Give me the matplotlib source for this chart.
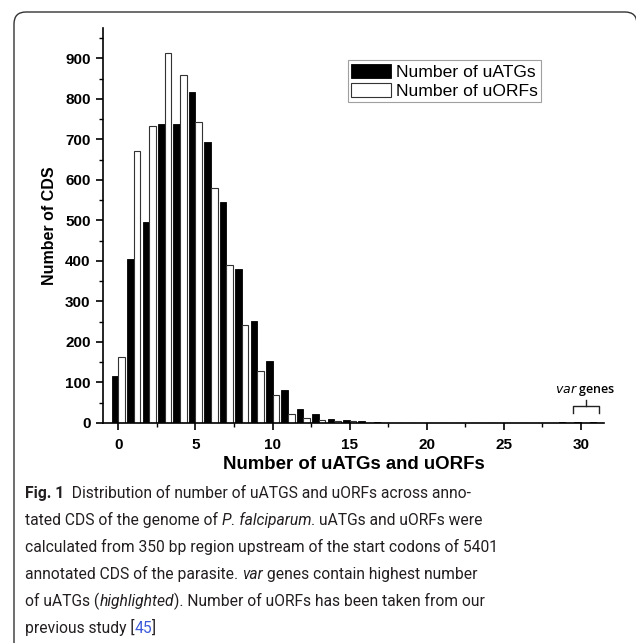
import numpy as np
import matplotlib
matplotlib.use("Agg")
import matplotlib.pyplot as plt
from matplotlib.patches import FancyBboxPatch
from matplotlib.transforms import IdentityTransform
from matplotlib.ticker import MultipleLocator

# number of uATGs / uORFs per CDS (0..31)
n_values = np.arange(0, 32)
uatg_counts = [117, 405, 496, 737, 737, 816, 694, 546, 380, 251, 154, 82,
               35, 22, 10, 8, 6, 3, 0, 0, 0, 1, 1, 0,
               0, 0, 0, 0, 0, 3, 2, 2]
uorf_counts = [164, 672, 733, 913, 859, 742, 579, 390, 242, 128, 70, 22,
               12, 7, 5, 5, 1, 0, 0, 0, 0, 0, 0, 0,
               0, 0, 0, 0, 0, 1, 0, 1]
series_names = ["Number of uATGs", "Number of uORFs"]

TXT = "#231f20"
caption_lines = [
    [("Fig. 1", "bold", "normal", TXT), ("  Distribution of number of uATGS and uORFs across anno-", "normal", "normal", TXT)],
    [("tated CDS of the genome of ", "normal", "normal", TXT), ("P. falciparum", "normal", "italic", TXT), (". uATGs and uORFs were", "normal", "normal", TXT)],
    [("calculated from 350 bp region upstream of the start codons of 5401", "normal", "normal", TXT)],
    [("annotated CDS of the parasite. ", "normal", "normal", TXT), ("var", "normal", "italic", TXT), (" genes contain highest number", "normal", "normal", TXT)],
    [("of uATGs (", "normal", "normal", TXT), ("highlighted", "normal", "italic", TXT), ("). Number of uORFs has been taken from our", "normal", "normal", TXT)],
    [("previous study [", "normal", "normal", TXT), ("45", "normal", "normal", "#3b5bdb"), ("]", "normal", "normal", TXT)],
]

W, H = 636, 643
DPI = 100
CAP_FONT = "Roboto"


def draw_caption(fig, lines, x0, y0, step, target_width):
    """caption text, one run after another; size chosen so line 3 fits the width"""
    fig.canvas.draw()
    renderer = fig.canvas.get_renderer()
    probe = fig.text(0, 0, lines[2][0][0], fontsize=12, family=CAP_FONT)
    size = 12 * target_width / probe.get_window_extent(renderer).width
    probe.remove()
    for i, runs in enumerate(lines):
        x = x0
        y = H - (y0 + i * step)
        for text, weight, style, color in runs:
            t = fig.text(x / W, y / H, text, fontsize=size, fontweight=weight,
                         fontstyle=style, color=color, family=CAP_FONT,
                         va="baseline", ha="left")
            bb = t.get_window_extent(renderer)
            x += bb.width


def main():
    plt.rcParams["font.family"] = ["Liberation Sans", "DejaVu Sans"]
    fig = plt.figure(figsize=(W / DPI, H / DPI), dpi=DPI)
    ax = fig.add_axes([103 / W, 1 - 423 / H, 501 / W, 395 / H])

    bw = 0.43
    ax.bar(n_values - bw / 2, uatg_counts, width=bw, color="black",
           edgecolor="black", linewidth=0.6, label=series_names[0])
    ax.bar(n_values + bw / 2, uorf_counts, width=bw, color="white",
           edgecolor="#333333", linewidth=0.8, label=series_names[1])

    ax.set_xlim(-1, 31.5)
    ax.set_ylim(0, 975)
    ax.xaxis.set_major_locator(MultipleLocator(5))
    ax.xaxis.set_minor_locator(MultipleLocator(2.5))
    ax.yaxis.set_major_locator(MultipleLocator(100))
    ax.yaxis.set_minor_locator(MultipleLocator(50))
    ax.spines["top"].set_visible(False)
    ax.spines["right"].set_visible(False)
    for s in ("left", "bottom"):
        ax.spines[s].set_linewidth(1.2)
    ax.tick_params(which="major", length=5, width=1.2, labelsize=11)
    ax.tick_params(which="minor", length=3, width=1.0)
    ax.tick_params(axis="x", which="major", pad=6)
    ax.tick_params(axis="y", which="major", pad=4)
    for lab in ax.get_xticklabels() + ax.get_yticklabels():
        lab.set_fontweight("bold")

    ax.set_xlabel("Number of uATGs and uORFs", fontsize=13.4, fontweight="bold", labelpad=3)
    ax.set_ylabel("Number of CDS", fontsize=11.5, fontweight="bold", labelpad=6)

    leg = ax.legend(loc="upper left", bbox_to_anchor=(0.489, 0.918), fontsize=12.6,
                    frameon=True, fancybox=False, handlelength=2.25, handleheight=0.85,
                    handletextpad=0.3, borderpad=0.2, labelspacing=0.15,
                    borderaxespad=0)
    leg.get_frame().set_edgecolor("#888888")
    leg.get_frame().set_linewidth(0.8)

    # var genes bracket
    bx0, bx1, bxm = 29.5, 31.15, 30.3
    by, bfoot, btop = 42, 25, 58
    ax.plot([bx0, bx0, bx1, bx1], [bfoot, by, by, bfoot], color="#222222", lw=1.0, clip_on=False)
    ax.plot([bxm, bxm], [by, btop], color="#222222", lw=1.0, clip_on=False)
    ax.text(bxm, 62, r"$\it{var}$ genes", ha="center", va="bottom", fontsize=9,
            family="Open Sans", fontweight="semibold")

    # rounded frame around figure
    frame = FancyBboxPatch((14, -40), 623, H - 12 + 40,
                           boxstyle="round,pad=0,rounding_size=12",
                           transform=IdentityTransform(), facecolor="none",
                           edgecolor="#333333", linewidth=1.0)
    fig.patches.append(frame)

    draw_caption(fig, caption_lines, 25, 498, 27, 471)

    fig.savefig("out.png", dpi=DPI)


if __name__ == "__main__":
    main()
